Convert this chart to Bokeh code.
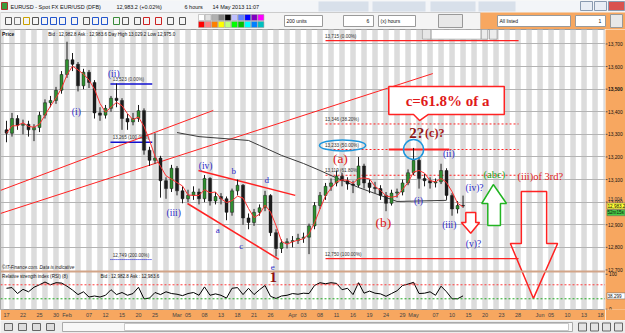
import numpy as np
import pandas as pd
from bokeh.plotting import figure
from bokeh.layouts import column, row
from bokeh.models import Range1d, FixedTicker, Span, ColumnDataSource
from bokeh.core.properties import value
from bokeh.embed import file_html
from bokeh.resources import INLINE

# ---------------- data (daily bars from 2013-01-17, EUR/USD x10000) ----------------
opens = [13320,13305,13370,13340,13345,13320,13330,13385,13440,13450,
         13495,13565,13630,13610,13515,13575,13530,13395,13385,13415,
         13460,13450,13370,13355,13370,13405,13230,13185,13195,13095,
         13060,13150,13050,13015,13030,13045,13015,13105,13005,13025,
         13015,12955,13050,13075,12930,12910,12955,12975,13030,12865,
         12795,12820,12825,12830,12840,12845,12895,12985,13030,13070,
         13085,13115,13095,13080,13075,13160,13085,13065,13060,13030,
         12995,13040,13045,13085,13130,13185,13105,13095,13085,13090,
         13140,13030,12970,12985]
highs = [13360,13395,13385,13365,13360,13345,13400,13455,13470,13510,
         13580,13710,13660,13620,13590,13585,13540,13420,13430,13470,
         13525,13460,13390,13395,13430,13415,13245,13305,13205,13110,
         13165,13160,13070,13055,13070,13060,13120,13110,13045,13040,
         13025,13060,13100,13080,12950,12970,12990,13050,13035,12880,
         12835,12840,12850,12860,12865,12905,13000,13045,13085,13105,
         13140,13130,13110,13095,13200,13170,13100,13090,13075,13045,
         13055,13060,13100,13145,13240,13200,13125,13110,13105,13170,
         13150,13040,13005,13029]
lows = [13265,13290,13320,13300,13290,13270,13310,13370,13420,13435,
        13480,13550,13580,13490,13500,13505,13370,13360,13370,13400,
        13420,13320,13320,13340,13355,13210,13160,13170,13020,13015,
        13045,13030,12995,13000,13010,12990,13000,12985,12990,12990,
        12920,12940,13030,12900,12880,12895,12940,12960,12850,12760,
        12775,12795,12800,12815,12820,12770,12880,12970,13010,13050,
        13070,13070,13055,13040,13065,13060,13040,13040,13010,12960,
        12985,13020,13030,13075,13120,13060,13070,13060,13065,13080,
        13010,12940,12950,12975]
closes = [13305,13370,13340,13345,13320,13330,13385,13440,13450,13495,
          13565,13630,13610,13515,13575,13530,13395,13385,13415,13460,
          13450,13370,13355,13370,13405,13230,13185,13195,13095,13060,
          13150,13050,13015,13030,13045,13015,13105,13005,13025,13015,
          12955,13050,13075,12930,12910,12955,12975,13030,12865,12795,
          12820,12825,12830,12840,12845,12895,12985,13030,13070,13085,
          13115,13095,13080,13075,13160,13085,13065,13060,13030,12995,
          13040,13045,13085,13130,13185,13105,13095,13085,13090,13140,
          13030,12970,12985,12983]
rsi_values = [60,62,45,57,50,63,70,78,70,76,
              75,66,55,42,50,35,38,35,40,56,
              42,48,40,45,63,30,32,48,42,50,
              45,43,39,45,48,40,64,40,44,40,
              32,60,62,42,60,42,56,68,37,31,
              38,40,45,43,46,45,68,76,73,76,
              74,56,60,42,76,46,52,46,44,37,
              45,53,68,72,77,45,46,50,40,66,
              50,30,30,38.3]
ma200_days = [31, 35, 44, 46, 50, 54, 57, 59, 64, 71, 80]
ma200_values = [13308, 13290, 13273, 13251, 13207, 13171, 13140, 13118, 13065, 13003, 13008]

tick_dates = ["2013-01-17","2013-01-22","2013-01-25","2013-01-30","2013-02-01","2013-02-07",
              "2013-02-12","2013-02-15","2013-02-20","2013-02-25","2013-03-01","2013-03-05",
              "2013-03-08","2013-03-13","2013-03-18","2013-03-21","2013-03-26","2013-04-01",
              "2013-04-03","2013-04-08","2013-04-11","2013-04-16","2013-04-19","2013-04-24",
              "2013-04-29","2013-05-01","2013-05-07","2013-05-10","2013-05-15","2013-05-20",
              "2013-05-23","2013-05-28","2013-06-03","2013-06-05","2013-06-10","2013-06-13",
              "2013-06-18"]
tick_labels = ["17","22","25","30","Feb","07","12","15","20","25","Mar","05","08","13","18",
               "21","26","Apr","03","08","11","16","19","24","29","May","07","10","15","20",
               "23","28","Jun","05","10","13","18"]
price_ticks = [12700, 12800, 12900, 13000, 13100, 13200, 13300, 13400, 13500, 13600, 13700]
price_tick_labels = ["12,700", "12,800", "12,900", "13,000", "13,100", "13,200", "13,300",
                     "13,400", "13,500", "13,600", "13,700"]
rsi_ticks = [100, 0]
rsi_tick_labels = ["100", "0"]
last_rsi = 38.299
last_price = 12983.2
ma200_last = 13004
fib_levels = [13715, 13346, 13233, 13119, 12750]
fib_labels = ["13,715 (0.00%)", "13,346 (38.20%)", "13,233 (50.00%)", "13,119 (61.80%)", "12,750 (100.00%)"]
blue_fib_levels = [13523, 13265]
blue_fib_labels = ["13,523 (0.00%)", "13,265 (100.00%)"]

ORANGE = "#f7a760"
RED = "#ff2222"
BLUE = "#2a2ac8"
SERIF = value("Liberation Serif")
SANS = value("Liberation Sans")

days = pd.bdate_range("2013-01-17", "2013-06-28")
pos = {d.strftime("%Y-%m-%d"): i for i, d in enumerate(days)}
tick_pos = [pos[d] for d in tick_dates]
n = len(closes)
xs = np.arange(n)

# ---------------- header (window chrome) ----------------
h = figure(width=625, height=29, x_range=Range1d(0, 625), y_range=Range1d(29, 0),
           output_backend="svg", toolbar_location=None, min_border=0,
           outline_line_color=None, background_fill_color="#efefef")
h.axis.visible = False
h.grid.visible = False
h.quad(left=0, right=625, top=0, bottom=12, fill_color="#f3f5f8", line_color=None)
h.quad(left=[318, 372, 430, 478], right=[368, 425, 475, 515], top=[1]*4, bottom=[11]*4,
       fill_color="#d8e0ea", line_color=None)
h.quad(left=1, right=7, top=2, bottom=9, fill_color="#3c9a3c", line_color="#b03030")
h.text(x=[10, 116, 184, 212], y=[6.5]*4,
       text=["EURUSD - Spot FX EUR/USD (DFB)", "12,983.2 (+0.02%)", "6 hours", "14 May 2013 11:07"],
       text_font=SANS, text_font_size="5.5px", text_baseline="middle", text_color="#111")
h.quad(left=[580, 594, 608], right=[592, 606, 624], top=[1]*3, bottom=[10]*3,
       fill_color=["#e9eef5", "#e9eef5", "#d9534f"], line_color="#8a9bb0")
h.quad(left=0, right=480, top=12, bottom=29, fill_color="#f4f4f4", line_color="#cccccc")
h.quad(left=480, right=625, top=12, bottom=29, fill_color=ORANGE, line_color=None)
icon_x = [8, 17, 26, 35, 44, 53, 62, 74, 86, 95, 104, 116, 125, 137, 146, 158, 170, 182]
h.rect(x=icon_x, y=[20.5]*len(icon_x), width=6, height=7, fill_color=None,
       line_color=["#555", "#777", "#c9a000", "#555", "#2255cc", "#2255cc", "#2255cc", "#2255cc",
                   "#555", "#2255cc", "#2255cc", "#3a8a3a", "#555", "#555", "#cc2222", "#cc2222",
                   "#555", "#555"])
sw_cols = ["#ffffff", "#e0e0e0", "#b0b0b0", "#808080", "#000000", "#c0c0ff", "#6080ff", "#0000ff", "#8000c0", "#ff00ff",
           "#ff0000", "#ff8080", "#ff8000", "#ffff00", "#c0ff80", "#00ff00", "#00c000", "#00ffff", "#0080ff", "#00c0c0"]
sw_x = [201 + 6.6 * (k % 10) for k in range(20)]
sw_y = [17 if k < 10 else 24 for k in range(20)]
h.rect(x=sw_x, y=sw_y, width=6, height=6, fill_color=sw_cols, line_color="#999999", line_width=0.5)
h.quad(left=[284, 343, 378, 497, 575], right=[322, 373, 415, 570, 605], top=[15]*5, bottom=[26]*5,
       fill_color="white", line_color="#9a9a9a")
h.text(x=[286, 366, 380, 499, 598], y=[20.5]*5, text=["200 units", "6", "(x) hours", "All listed", "1"],
       text_font=SANS, text_font_size="5px", text_baseline="middle", text_color="#111")
h.quad(left=438, right=462, top=14, bottom=27, fill_color="#e8e8e8", line_color="#999")
h.quad(left=610, right=622, top=14, bottom=27, fill_color="#e8e8e8", line_color="#999")

# ---------------- main chart (price + RSI share one frame) ----------------
price_range = Range1d(12525, 13764)
rsi_range = Range1d(-0.6, 799.4)
p = figure(width=605, height=291, x_range=Range1d(-1.09, 108.9), y_range=price_range,
           y_axis_location=None, output_backend="svg", toolbar_location=None,
           min_border_left=0, min_border_right=0, min_border_top=0, min_border_bottom=11,
           border_fill_color=ORANGE, background_fill_color="white", outline_line_color="#9a9a9a")
p.extra_y_ranges = {"rsi": rsi_range}
p.grid.visible = False

stripe_x = list(range(-1, 111, 2))
p.vbar(x=stripe_x, width=1.0, bottom=12525, top=13764, fill_color="#dcdcdc", line_color=None)
p.hspan(y=price_ticks[1:], line_color="#b4b4b4", line_width=1)

# separator between price and RSI panes
p.add_layout(Span(location=12693, dimension="width", line_color="#d2a487", line_width=2))

# fib / drawing lines
p.segment(x0=[58.0, 58.0], y0=[fib_levels[0], fib_levels[4]], x1=[93.1, 93.1], y1=[fib_levels[0], fib_levels[4]],
          line_color=RED, line_width=1.2)
p.segment(x0=[58.0]*3, y0=fib_levels[1:4], x1=[93.1]*3, y1=fib_levels[1:4],
          line_color=RED, line_width=1, line_dash="2 2")
p.text(x=[57.9]*5, y=[v + 8 for v in fib_levels], text=fib_labels, text_font=SANS,
       text_font_size="4.6px", text_color="#333", text_baseline="bottom")
p.segment(x0=69.5, y0=13233, x1=80.5, y1=13233, line_color=RED, line_width=2)

p.segment(x0=[18.9]*2, y0=blue_fib_levels, x1=[26.5]*2, y1=blue_fib_levels, line_color="#1010d0", line_width=1.5)
p.text(x=[19.3]*2, y=[v + 8 for v in blue_fib_levels], text=blue_fib_labels, text_font=SANS,
       text_font_size="4.6px", text_color="#333", text_baseline="bottom")
p.segment(x0=18.9, y0=12746, x1=26.5, y1=12746, line_color="#1010d0", line_width=1, line_dash="1 1")
p.text(x=[19.3], y=[12752], text=["12,749 (200.00%)"], text_font=SANS,
       text_font_size="4.6px", text_color="#333", text_baseline="bottom")

# channel and wedge lines
p.segment(x0=[-1.09, -1.09], y0=[13052, 12950], x1=[37.6, 77.5], y1=[13406, 13569], line_color=RED, line_width=1)
p.segment(x0=[34.9, 32.9], y0=[13140, 12994], x1=[52.5, 49.5], y1=[13030, 12747], line_color=RED, line_width=1.5)

# 200-period moving average (grey)
p.line(ma200_days, ma200_values, line_color="#3a3a3a", line_width=1)

# candles
inc = [c >= o for o, c in zip(opens, closes)]
src = ColumnDataSource(dict(x=xs, h=highs, l=lows,
                            top=[max(o, c) for o, c in zip(opens, closes)],
                            bottom=[min(o, c) for o, c in zip(opens, closes)],
                            color=["#2f8f2f" if u else "#1c1c1c" for u in inc]))
p.segment(x0="x", y0="h", x1="x", y1="l", source=src, line_color="#1c1c1c", line_width=1)
p.vbar(x="x", width=0.55, top="top", bottom="bottom", fill_color="color", line_color="#1c1c1c",
       line_width=0.5, source=src)
ma = pd.Series(closes).rolling(3, min_periods=1).mean()
p.line(xs, ma, line_color="#ff3030", line_width=1)

# RSI pane
rsi = np.array(rsi_values, dtype=float)
p.varea(x=xs, y1=np.full(n, 70.0), y2=np.maximum(rsi, 70), fill_color="#f3a3a3", y_range_name="rsi")
p.line(xs, rsi, line_color="black", line_width=1, y_range_name="rsi")
p.add_layout(Span(location=70, dimension="width", line_color="#ff3b3b", line_width=1, line_dash="2 2", y_range_name="rsi"))
p.add_layout(Span(location=30, dimension="width", line_color="#22aa22", line_width=1, line_dash="2 2", y_range_name="rsi"))

# ellipses
p.ellipse(x=61.1, y=13251, width=8.4, height=49, fill_color=None, line_color="#1e96dc", line_width=1.5)
p.ellipse(x=74.0, y=13233, width=3.64, height=88.5, fill_color=None, line_color="#1e96dc", line_width=1.5)

# callout box and arrows
p.patch(x=[69.5, 90.5, 90.5, 76.7, 75.1, 74.0, 69.5], y=[13512, 13512, 13388, 13388, 13361, 13388, 13388],
        fill_color="white", line_color=RED, line_width=1.5)
p.patch(x=[93.6, 98.2, 98.2, 100.2, 95.8, 91.6, 93.6], y=[13047, 13047, 12817, 12817, 12574, 12817, 12817],
        fill_color="white", fill_alpha=0.0, line_color=RED, line_width=1.5)
p.patch(x=[83.5, 85.3, 85.3, 86.0, 84.4, 82.7, 83.5], y=[12954, 12954, 12910, 12910, 12862, 12910, 12910],
        fill_color="white", line_color=RED, line_width=1.5)
p.patch(x=[87.5, 89.8, 89.8, 90.9, 88.5, 86.4, 87.5], y=[12897, 12897, 12994, 12994, 13078, 12994, 12994],
        fill_color="white", line_color="#22b422", line_width=1.5)

# wave labels
p.text(x=[12.7, 19.5, 30.4, 36.2, 74.9, 80.4, 80.5, 85.1, 84.9],
       y=[13401, 13565, 12950, 13162, 13003, 13215, 12901, 13061, 12817],
       text=["(i)", "(ii)", "(iii)", "(iv)", "(i)", "(ii)", "(iii)", "(iv)?", "(v)?"],
       text_font=SERIF, text_font_size="9.5px", text_color=BLUE, text_align="center", text_baseline="middle")
p.text(x=[38.4, 41.3, 42.7, 47.3, 48.4], y=[12875, 13136, 12804, 13096, 12711],
       text=["a", "b", "c", "d", "e"], text_font=SERIF, text_font_size="9px", text_color=BLUE,
       text_align="center", text_baseline="middle")
p.text(x=[60.7, 68.5], y=[13193, 12910], text=["(a)", "(b)"], text_font=SERIF, text_font_size="13.5px",
       text_color="#e01a1a", text_align="center", text_baseline="middle")
p.text(x=[74.6], y=[13308], text=["2?"], text_font=SERIF, text_font_size="15px", text_font_style="bold",
       text_color="#8e1515", text_align="center", text_baseline="middle")
p.text(x=[76.1], y=[13304], text=["(c)?"], text_font=SERIF, text_font_size="12px", text_font_style="bold",
       text_color="#a81818", text_align="left", text_baseline="middle")
p.text(x=[80.2], y=[13446], text=["c=61.8% of a"], text_font=SERIF, text_font_size="15px",
       text_font_style="bold", text_color="#e01a1a", text_align="center", text_baseline="middle")
p.text(x=[88.7], y=[13123], text=["(abc)"], text_font=SERIF, text_font_size="10.5px",
       text_color="#22a322", text_align="center", text_baseline="middle")
p.text(x=[92.9], y=[13114], text=["(iii)of 3rd?"], text_font=SERIF, text_font_size="10.5px",
       text_color="#e01a1a", text_align="left", text_baseline="middle")
p.text(x=[48.5], y=[12667], text=["1"], text_font=SERIF, text_font_size="15px", text_font_style="bold",
       text_color="#8b1111", text_align="center", text_baseline="middle")

# pane headers and notes
p.text(x=[-0.8], y=[13742], text=["Price"], text_font=SANS, text_font_size="5px", text_font_style="bold",
       text_color="#111", text_baseline="middle")
p.text(x=[7.6], y=[13742], text=["Bid : 12,982.8 Ask : 12,983.6 Day High 13,029.2 Low 12,975.0"],
       text_font=SANS, text_font_size="4.6px", text_color="#111", text_baseline="middle")
p.text(x=[-0.8], y=[12711], text=["\u00a9IT-Finance.com. Data is indicative"], text_font=SANS,
       text_font_size="4.6px", text_font_style="italic", text_color="#222", text_baseline="middle")
p.text(x=[-0.8], y=[12671], text=["Relative strength index (RSI) (8)"], text_font=SANS,
       text_font_size="4.6px", text_color="#111", text_baseline="middle")
p.text(x=[17.1], y=[12671], text=["Bid : 12,982.8 Ask : 12,983.6"], text_font=SANS,
       text_font_size="4.6px", text_color="#111", text_baseline="middle")

# floating toolbar widget overlapping the top of the chart
p.quad(left=[75.6, 77.2, 86.3, 87.8], right=[77.2, 86.3, 87.5, 89.2],
       top=[13764]*4, bottom=[13721]*4,
       fill_color=["#e6e6e6", "white", "#ececec", "#ececec"], line_color="#8f8f8f", line_width=0.7)

# x axis
p.xaxis.ticker = FixedTicker(ticks=tick_pos)
p.xaxis.major_label_overrides = {tp: lab for tp, lab in zip(tick_pos, tick_labels)}
p.xaxis.major_label_text_font = "Liberation Sans"
p.xaxis.major_label_text_font_size = "5.5px"
p.xaxis.major_label_standoff = 2
p.xaxis.major_tick_out = 0
p.xaxis.major_tick_in = 0
p.xaxis.minor_tick_line_color = None
p.xaxis.axis_line_color = None

# ---------------- right value scale (shares the price and RSI scales) ----------------
s = figure(width=20, height=291, x_range=Range1d(0, 20), y_range=price_range,
           output_backend="svg", toolbar_location=None, min_border_left=0, min_border_right=0,
           min_border_top=0, min_border_bottom=11, border_fill_color=ORANGE,
           background_fill_color=ORANGE, outline_line_color=None)
s.extra_y_ranges = {"rsi": rsi_range}
s.axis.visible = False
s.grid.visible = False
s.segment(x0=[0]*len(price_ticks), y0=price_ticks, x1=[2]*len(price_ticks), y1=price_ticks,
          line_color="#555", line_width=1)
s.text(x=[2.5]*len(price_ticks), y=price_ticks, text=price_tick_labels, text_font=SANS,
       text_font_size="4.8px", text_color="#111", text_baseline="middle",
       text_font_style=["bold" if t == 13500 else "normal" for t in price_ticks])
s.segment(x0=[0, 0], y0=rsi_ticks, x1=[2, 2], y1=rsi_ticks, line_color="#555", line_width=1, y_range_name="rsi")
s.text(x=[3.5, 3.5], y=rsi_ticks, text=rsi_tick_labels, text_font=SANS, text_font_size="4.8px",
       text_color="#111", text_baseline="middle", y_range_name="rsi")
s.rect(x=[10.5, 10.5], y=[last_price, last_price - 30], width=18, height=6, height_units="screen",
       fill_color=["#ffff33", "#44cc44"], line_color="#666", line_width=0.5)
s.text(x=[2.5], y=[ma200_last + 10], text=["13,004"], text_font=SANS, text_font_size="4.6px",
       text_color="#333", text_baseline="middle")
s.text(x=[2.0, 2.0], y=[last_price, last_price - 30], text=["12,983.2", "52m15s"], text_font=SANS,
       text_font_size="4.6px", text_color="#111", text_baseline="middle")
s.rect(x=[10.5], y=[last_rsi], width=18, height=6, height_units="screen", fill_color="white",
       line_color="#666", line_width=0.5, y_range_name="rsi")
s.text(x=[2.0], y=[last_rsi], text=["38.299"], text_font=SANS, text_font_size="4.6px",
       text_color="#111", text_baseline="middle", y_range_name="rsi")

# ---------------- footer ----------------
f = figure(width=625, height=13, x_range=Range1d(0, 625), y_range=Range1d(13, 0),
           output_backend="svg", toolbar_location=None, min_border=0,
           outline_line_color=None, background_fill_color="#ececec")
f.axis.visible = False
f.grid.visible = False
f.rect(x=[8, 22, 36, 50], y=[6.5]*4, width=8, height=7, fill_color="#dddddd", line_color="#666")
f.quad(left=62, right=572, top=2, bottom=11, fill_color="#f7f7f7", line_color="#aaaaaa")
f.quad(left=124, right=568, top=3, bottom=10, fill_color="white", line_color="#c8c8c8")
f.rect(x=[582, 594, 606, 618], y=[6.5]*4, width=8, height=8, fill_color="#e4e4e4", line_color="#666")

layout = column(h, row(p, s, spacing=0), f, spacing=0)
open("out.html", "w").write(file_html(layout, INLINE))
